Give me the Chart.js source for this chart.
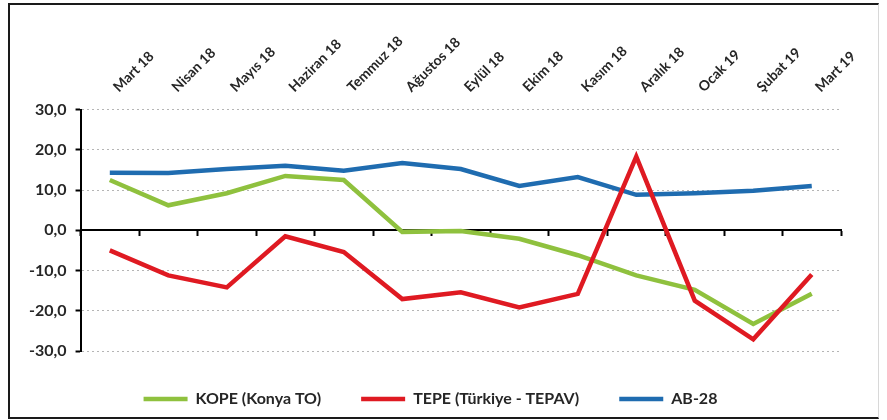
<!DOCTYPE html>
<html lang="tr">
<head>
    <meta charset="UTF-8">
    <title>KOPE - TEPE - AB-28</title>
    <script src="https://cdn.jsdelivr.net/npm/chart.js"></script>
    <style>
        html, body { margin: 0; padding: 0; background: #fff; }
        .wrap { position: relative; width: 887px; height: 420px; }
        .frame {
            position: absolute; left: 8px; top: 3px; width: 868px; height: 412px;
            border-left: 2px solid #1a1a1a; border-top: 2px solid #1a1a1a;
            border-bottom: 2px solid #1a1a1a; border-right: 1px solid #d8d8d8;
            pointer-events: none;
        }
    </style>
</head>
<body>
    <div class="wrap">
        <canvas id="chart"></canvas>
        <div class="frame"></div>
    </div>

    <script>
        const labels = ['Mart 18', 'Nisan 18', 'Mayıs 18', 'Haziran 18', 'Temmuz 18', 'Ağustos 18',
            'Eylül 18', 'Ekim 18', 'Kasım 18', 'Aralık 18', 'Ocak 19', 'Şubat 19', 'Mart 19'];
        const kope = [12.5, 6.2, 9.2, 13.5, 12.5, -0.4, -0.2, -2.1, -6.2, -11.2, -14.8, -23.3, -15.8];
        const tepe = [-5.0, -11.2, -14.2, -1.5, -5.4, -17.1, -15.4, -19.2, -15.8, 18.3, -17.5, -27.1, -11.0];
        const ab28 = [14.3, 14.2, 15.2, 16.0, 14.8, 16.7, 15.2, 11.0, 13.2, 8.8, 9.2, 9.8, 11.0];

        const txt = '#262626';
        const font = { family: 'Lato', weight: 'bold', size: 14 };

        function serie(label, data, color, order) {
            return {
                label: label, data: data, order: order,
                borderColor: color, backgroundColor: color,
                pointBorderColor: color, pointBackgroundColor: color,
                borderWidth: 4.5, pointBorderWidth: 4.5, pointRadius: 0
            };
        }

        let ctx = document.getElementById('chart').getContext('2d');
        new Chart(ctx, {
            type: 'line',
            data: {
                labels: labels,
                datasets: [
                    serie('KOPE (Konya TO)', kope, '#8fc13e', 1),
                    serie('TEPE (Türkiye - TEPAV)', tepe, '#df1a22', 0),
                    serie('AB-28', ab28, '#1f6cb0', 2)
                ]
            },
            options: {
                responsive: true,
                maintainAspectRatio: false,
                animation: false,
                elements: { line: { tension: 0 } },
                layout: { padding: { left: 20, right: 46, top: 19, bottom: 3 } },
                scales: {
                    x: {
                        position: 'top',
                        offset: true,
                        grid: { display: false, drawTicks: false },
                        border: { display: false },
                        ticks: { color: txt, font: font, minRotation: 45, maxRotation: 45,
                                 padding: 14, labelOffset: 18 }
                    },
                    x2: {
                        type: 'category',
                        labels: labels,
                        position: { y: 0 },
                        offset: true,
                        grid: { display: true, drawOnChartArea: false, drawTicks: true, offset: true,
                                tickLength: 5, tickWidth: 2, tickColor: '#000' },
                        border: { color: '#000', width: 2 },
                        ticks: { display: false }
                    },
                    y: {
                        min: -30,
                        max: 30,
                        ticks: {
                            stepSize: 10,
                            autoSkip: false,
                            color: txt,
                            font: { family: 'Lato', weight: 'bold', size: 16 },
                            padding: 9,
                            callback: v => v.toFixed(1).replace('.', ',')
                        },
                        grid: {
                            color: c => (c.tick && c.tick.value === 0) ? 'rgba(0,0,0,0)' : '#b5b5b5',
                            lineWidth: 1,
                            tickLength: 5,
                            tickWidth: 2,
                            tickColor: '#000',
                            tickBorderDash: []
                        },
                        border: { color: '#000', width: 2, dash: [2, 3] }
                    }
                },
                plugins: {
                    legend: {
                        position: 'bottom',
                        labels: {
                            color: txt,
                            font: { family: 'Lato', weight: 'bold', size: 16 },
                            usePointStyle: true,
                            pointStyle: 'line',
                            pointStyleWidth: 44,
                            padding: 40,
                            sort: (a, b) => a.datasetIndex - b.datasetIndex
                        }
                    },
                    tooltip: { enabled: false }
                }
            }
        });
    </script>
</body>
</html>
